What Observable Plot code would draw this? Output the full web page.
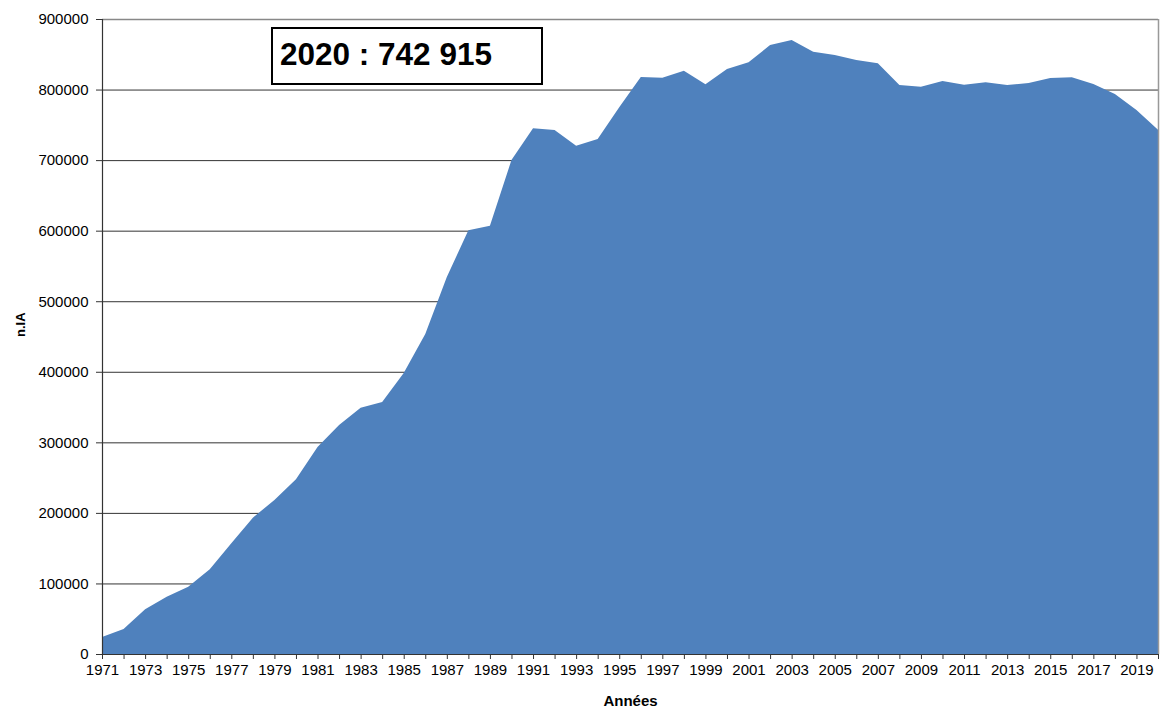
<!DOCTYPE html>
<html>
<head>
<meta charset="utf-8">
<script src="https://cdn.jsdelivr.net/npm/d3@7"></script>
<script src="https://cdn.jsdelivr.net/npm/@observablehq/plot@0.6"></script>
<style>
  html, body { margin: 0; padding: 0; background: #fff; }
  #wrap { position: relative; width: 1160px; height: 715px; font-family: "Liberation Sans", Arial, sans-serif; }
  #note { position: absolute; left: 271px; top: 27px; width: 268px; height: 54px; border: 2px solid #000; background: #fff;
          font: bold 31.5px "Liberation Sans", Arial, sans-serif; color: #000; box-sizing: content-box; }
  #note span { position: absolute; left: 7px; top: 7px; }
</style>
</head>
<body>
<div id="wrap"><div id="note"><span></span></div></div>
<script>
const years = d3.range(1971, 2021);
const values = [
  24000, 35400, 63300, 81200, 95400, 120000, 156900, 193200, 218300, 247600,
  293400, 324600, 349000, 357000, 398300, 453500, 534300, 600500, 607000, 700200,
  745100, 742700, 720500, 730000, 774800, 817800, 816800, 826800, 807400, 829100,
  838600, 863100, 870200, 853700, 849000, 841900, 837200, 806500, 804100, 812100,
  806900, 810200, 806500, 809300, 816400, 817300, 807900, 793700, 771000, 742915
];
const yTicks = d3.range(0, 900001, 100000);
const data = years.map((y, i) => ({year: y, value: values[i]}));

const last = data[data.length - 1];
document.querySelector("#note span").textContent =
  `${last.year} : ${d3.format(",")(last.value).replace(/,/g, " ")}`;

const font = "'Liberation Sans', Arial, sans-serif";
const chart = Plot.plot({
  width: 1160,
  height: 715,
  marginLeft: 102,
  marginRight: 2,
  marginTop: 19,
  marginBottom: 61,
  style: {fontFamily: font, fontSize: "15px", color: "#000", background: "transparent"},
  x: {domain: [1971, 2020]},
  y: {domain: [0, 900000]},
  marks: [
    Plot.ruleY(yTicks, {stroke: "#333", strokeWidth: 1}),
    Plot.ruleY([900000], {stroke: "#888", strokeWidth: 1.5}),
    Plot.areaY(data, {x: "year", y: "value", fill: "#4F81BD", curve: "linear"}),
    Plot.ruleX([2020], {stroke: "#999", strokeWidth: 1.5}),
    Plot.ruleX([1971], {stroke: "#333", strokeWidth: 1.2}),
    Plot.ruleY([0], {stroke: "#333", strokeWidth: 1.2}),
    Plot.axisY({ticks: yTicks, tickSize: 6, tickPadding: 8, tickFormat: d => String(d), label: null, stroke: "#333"}),
    Plot.axisX({ticks: years, tickSize: 5, tickPadding: 5, tickFormat: d => (d % 2 ? String(d) : ""), label: null, stroke: "#333"}),
    Plot.text(["n.IA"], {frameAnchor: "left", dx: -82, rotate: -90, fontWeight: "bold", fontSize: 13, text: d => d}),
    Plot.text(["Années"], {frameAnchor: "bottom", dy: 51, fontWeight: "bold", fontSize: 15, text: d => d})
  ]
});
document.getElementById("wrap").prepend(chart);
</script>
</body>
</html>
